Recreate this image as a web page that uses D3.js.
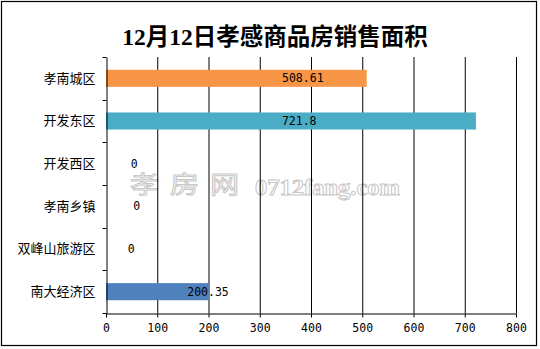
<!DOCTYPE html>
<html><head><meta charset="utf-8">
<script src="https://cdn.jsdelivr.net/npm/d3@7"></script>
<style>body{margin:0;background:#fff}svg{display:block}</style>
</head><body>
<svg id="c" width="540" height="349"></svg>
<script>
const categories = ["孝南城区","开发东区","开发西区","孝南乡镇","双峰山旅游区","南大经济区"];
const values = [508.61, 721.8, 0, 0, 0, 200.35];
const valueLabels = ["508.61","721.8","0","0","0","200.35"];
const labelAt = [384, 377, 55, 60, 49, 199];
const barColors = ["#F79646","#4BACC6","#8064A2","#9BBB59","#C0504D","#4F81BD"];
const xTicks = [0,100,200,300,400,500,600,700,800];
const title = "12月12日孝感商品房销售面积";

const svg = d3.select("#c");
const cjk = "'Noto Sans CJK SC', sans-serif";
svg.append("rect").attr("x",1.5).attr("y",1.5).attr("width",535).attr("height",344)
  .attr("fill","#fff").attr("stroke","#000").attr("stroke-width",1.2);

svg.append("text").attr("x",275).attr("y",45).attr("text-anchor","middle")
  .attr("font-family","'Liberation Serif', 'Noto Sans CJK SC', serif").attr("font-weight","bold")
  .attr("font-size",23.5).attr("fill","#000").text(title);

const x = d3.scaleLinear().domain([0,800]).range([106,516]);
const y = d3.scaleBand().domain(categories).range([57,313]).paddingInner(0.6).paddingOuter(0.3);
const yb = d3.scaleBand().domain(categories).range([57,313]);

// watermark
const wm = svg.append("g").attr("fill","none").attr("stroke","#c8c8c8").attr("stroke-width",1);
wm.append("text").attr("x",130).attr("y",193).attr("font-family",cjk).attr("font-size",24)
  .attr("letter-spacing",9).attr("textLength",120).attr("lengthAdjust","spacingAndGlyphs").text("孝房网");
wm.append("text").attr("x",255).attr("y",195).attr("font-family","'Liberation Serif', serif").attr("font-weight","bold")
  .attr("font-size",23).attr("textLength",145).attr("lengthAdjust","spacingAndGlyphs").text("0712fang.com");

// gridlines
svg.append("g").selectAll("line").data(xTicks.slice(1)).join("line")
  .attr("x1",d=>x(d)+0.5).attr("x2",d=>x(d)+0.5).attr("y1",57).attr("y2",313)
  .attr("stroke","#000").attr("stroke-width",1);

// bars
svg.append("g").selectAll("rect").data(values).join("rect")
  .attr("x",x(0)).attr("y",(d,i)=>y(categories[i])).attr("width",d=>x(d)-x(0))
  .attr("height",y.bandwidth()).attr("fill",(d,i)=>barColors[i]);

// value labels
svg.append("g").selectAll("text").data(valueLabels).join("text")
  .attr("x",(d,i)=>x(labelAt[i])).attr("y",(d,i)=>yb(categories[i])+yb.bandwidth()/2+4)
  .attr("text-anchor","middle").attr("font-family","'DejaVu Sans Mono', monospace").attr("font-size",11.5)
  .attr("fill","#000").text(d=>d);

// y axis
const ya = svg.append("g").attr("transform","translate(106.5,0)")
  .call(d3.axisLeft(yb).tickSize(0).tickPadding(11).tickFormat(d=>d));
ya.select(".domain").attr("stroke","#000");
ya.selectAll("text").attr("font-family",cjk).attr("font-size",13).attr("fill","#000");
ya.selectAll(".bt").data(d3.range(categories.length+1)).join("line").attr("class","bt")
  .attr("x1",-4).attr("x2",0)
  .attr("y1",d=>Math.round(57+d*yb.step())+0.5).attr("y2",d=>Math.round(57+d*yb.step())+0.5)
  .attr("stroke","#000");

// x axis
const xa = svg.append("g").attr("transform","translate(0,313.5)")
  .call(d3.axisBottom(x).tickValues(xTicks).tickSize(4).tickPadding(6).tickSizeOuter(0));
xa.select(".domain").attr("stroke","#000");
xa.selectAll(".tick line").attr("stroke","#000");
xa.selectAll("text").attr("font-family","'DejaVu Sans Mono', monospace").attr("font-size",11.5).attr("fill","#000");
</script>
</body></html>
